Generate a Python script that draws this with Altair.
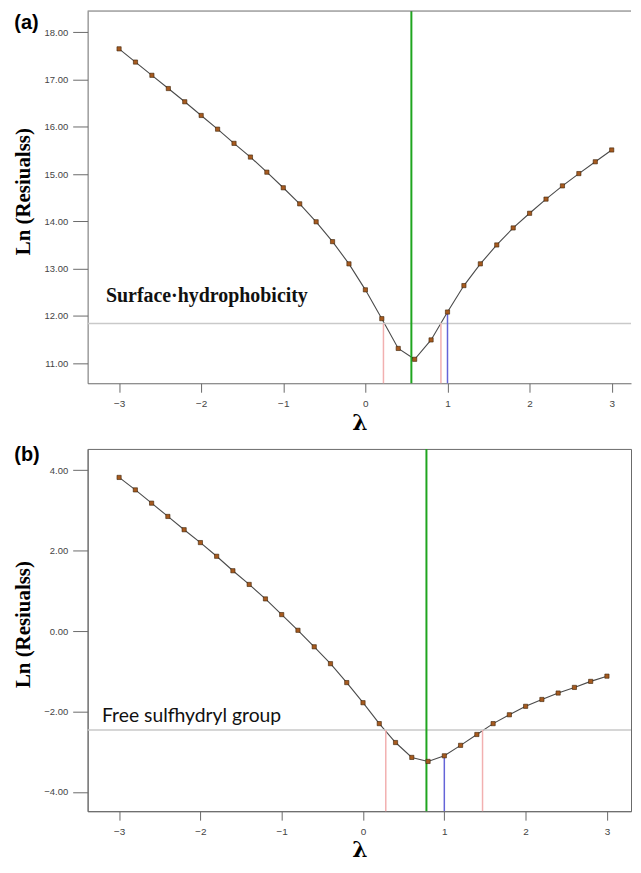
import altair as alt
import pandas as pd

LAMBDA = [-3.0, -2.8, -2.6, -2.4, -2.2, -2.0, -1.8, -1.6, -1.4, -1.2, -1.0,
          -0.8, -0.6, -0.4, -0.2, 0.0, 0.2, 0.4, 0.6, 0.8, 1.0,
          1.2, 1.4, 1.6, 1.8, 2.0, 2.2, 2.4, 2.6, 2.8, 3.0]

A_LN = [17.65, 17.37, 17.09, 16.81, 16.53, 16.24, 15.95, 15.65, 15.36, 15.04, 14.71,
        14.37, 13.99, 13.57, 13.10, 12.55, 11.94, 11.31, 11.08, 11.49, 12.08,
        12.64, 13.10, 13.50, 13.86, 14.17, 14.47, 14.75, 15.01, 15.26, 15.51]

B_LN = [3.82, 3.51, 3.18, 2.85, 2.52, 2.20, 1.86, 1.50, 1.16, 0.80, 0.41,
        0.02, -0.39, -0.81, -1.28, -1.78, -2.30, -2.77, -3.14, -3.24, -3.10,
        -2.84, -2.57, -2.30, -2.08, -1.87, -1.70, -1.54, -1.40, -1.25, -1.12]

X_TICKS = [-3, -2, -1, 0, 1, 2, 3]
A_Y_TICKS = [11, 12, 13, 14, 15, 16, 17, 18]
B_Y_TICKS = [-4, -2, 0, 2, 4]

A_CUTOFF = 11.84
A_OPT = 0.56
A_CI = [0.22, 0.92]
A_AT_ONE = 12.08

B_CUTOFF = -2.46
B_OPT = 0.78
B_CI = [0.28, 1.47]
B_AT_ONE = -3.10

A_NOTE = "Surface·hydrophobicity"
B_NOTE = "Free sulfhydryl group"
A_NOTE_POS = (-3.16, 12.29)
B_NOTE_POS = (-3.21, -2.25)

FRAME = "#6a6a6a"


def panel(vals, xdom, ydom, yticks, w, h, cutoff, opt, ci, at_one,
          note, note_pos, note_style, letter, letter_y, ytitle_y, xtitle_y, top_frame):
    df = pd.DataFrame({"lam": LAMBDA, "ln": vals})
    xs = alt.Scale(domain=xdom, nice=False, zero=False)
    ys = alt.Scale(domain=ydom, nice=False, zero=False)
    xaxis = alt.Axis(values=X_TICKS, format="d", title="λ",
                     titleFont="DejaVu Serif", titleFontSize=22, titleFontWeight="bold",
                     titleColor="black", titleY=xtitle_y, titleBaseline="alphabetic",
                     labelFont="Liberation Sans", labelFontSize=10, labelColor="#444",
                     labelPadding=6, tickSize=9, tickColor=FRAME, domainColor=FRAME,
                     grid=False)
    yaxis = alt.Axis(values=yticks, format=".2f", title="Ln (Resiualss)",
                     titleFont="Liberation Serif", titleFontSize=21, titleFontWeight="bold",
                     titleColor="black", titleX=-64.7, titleY=ytitle_y, titleBaseline="middle",
                     labelFont="Liberation Sans", labelFontSize=9.5, labelColor="#444",
                     labelPadding=5, tickSize=15, tickColor=FRAME, domainColor=FRAME,
                     grid=False)

    def X(f):
        return alt.X(f, scale=xs, axis=xaxis)

    def Y(f):
        return alt.Y(f, scale=ys, axis=yaxis)

    base = alt.Chart(df).encode(x=X("lam:Q"), y=Y("ln:Q"))
    line = base.mark_line(color="#4a4a4a", strokeWidth=1.1)
    pts = base.mark_square(size=18, fill="#a65a1f", stroke="#3b2208",
                           strokeWidth=0.6, opacity=1, filled=True)

    hline = alt.Chart(pd.DataFrame({"y": [cutoff]})).mark_rule(
        color="#c9c9c9", strokeWidth=1.5).encode(y=Y("y:Q"))
    green = alt.Chart(pd.DataFrame({"x": [opt]})).mark_rule(
        color="#1fa51f", strokeWidth=2).encode(x=X("x:Q"))
    pink_df = pd.DataFrame({"x": ci, "top": [cutoff] * len(ci), "bot": [ydom[0]] * len(ci)})
    pinks = alt.Chart(pink_df).mark_rule(color="#f2b0b0", strokeWidth=1.5).encode(
        x=X("x:Q"), y=Y("top:Q"), y2="bot:Q")
    blue_df = pd.DataFrame({"x": [1.0], "top": [at_one], "bot": [ydom[0]]})
    blue = alt.Chart(blue_df).mark_rule(color="#6464d8", strokeWidth=1.5).encode(
        x=X("x:Q"), y=Y("top:Q"), y2="bot:Q")
    note_df = pd.DataFrame({"x": [note_pos[0]], "y": [note_pos[1]], "t": [note]})
    note_mark = alt.Chart(note_df).mark_text(align="left", baseline="alphabetic",
                                             color="#111", **note_style).encode(
        x=X("x:Q"), y=Y("y:Q"), text="t:N")
    letter_mark = alt.Chart(pd.DataFrame({"t": [letter]})).mark_text(
        align="left", baseline="alphabetic", font="Liberation Sans", fontSize=20,
        fontWeight="bold", color="black").encode(
        x=alt.value(-73.7), y=alt.value(letter_y), text="t:N")

    layers = [line, hline, pinks, blue, green, pts, note_mark, letter_mark]
    if top_frame:
        topline = alt.Chart(pd.DataFrame({"y": [ydom[1]]})).mark_rule(
            color=FRAME, strokeWidth=1).encode(y=Y("y:Q"))
        layers.append(topline)
    ch = alt.layer(*layers).properties(width=w, height=h)
    if not top_frame:
        ch = ch.properties(view=alt.ViewBackground(stroke=FRAME, strokeWidth=1))
    return ch


top = panel(A_LN, [-3.383, 3.235], [10.573, 18.45], A_Y_TICKS, 546, 374,
            A_CUTOFF, A_OPT, A_CI, A_AT_ONE, A_NOTE, A_NOTE_POS,
            {"font": "Liberation Serif", "fontSize": 20, "fontWeight": "bold"},
            "(a)", 17.7, 181, 46, True)
bottom = panel(B_LN, [-3.387, 3.296], [-4.477, 4.528], B_Y_TICKS, 546, 364,
               B_CUTOFF, B_OPT, B_CI, B_AT_ONE, B_NOTE, B_NOTE_POS,
               {"font": "Lato", "fontSize": 19.4, "fontWeight": "normal"},
               "(b)", 11.7, 176, 46, False)

chart = alt.vconcat(top, bottom, spacing=66, bounds="flush").properties(
    padding={"left": 3, "top": 0, "right": 0, "bottom": 0},
    autosize=alt.AutoSizeParams(type="pad"),
).configure_view(stroke=None)

chart.save("out.html", embed_options={"renderer": "svg", "actions": False})
